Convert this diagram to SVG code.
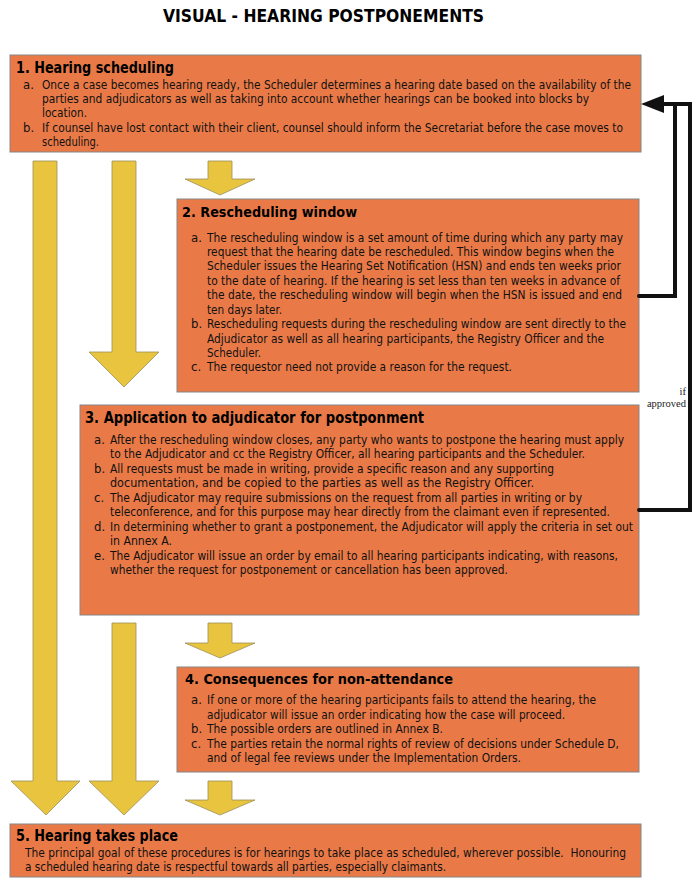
<svg xmlns="http://www.w3.org/2000/svg" width="700" height="889" viewBox="0 0 700 889">
<style>
.box{fill:#E97A48;stroke:#858585;stroke-width:1}
.arr{fill:#E9C53F;stroke:#9C8F5C;stroke-width:0.8}
.title{font-family:"DejaVu Sans Condensed","DejaVu Sans",sans-serif;font-weight:bold;font-size:17px;fill:#000}
.hc{font-family:"DejaVu Sans Condensed","DejaVu Sans",sans-serif;font-weight:bold;font-size:15px;fill:#000}
.hn{font-family:"DejaVu Sans","DejaVu Sans Condensed",sans-serif;font-weight:bold;font-size:14.5px;fill:#000}
.tc{font-family:"DejaVu Sans Condensed","DejaVu Sans",sans-serif;font-size:13px;fill:#111;white-space:pre}
.tn{font-family:"DejaVu Sans Condensed","DejaVu Sans",sans-serif;font-size:13px;fill:#111}
.conn{fill:none;stroke:#111;stroke-width:4;stroke-linecap:round;stroke-linejoin:miter}
.lbl{font-family:"Liberation Serif",serif;font-size:10.5px;fill:#222;text-anchor:end}
</style>

<text class="title" x="163" y="22" textLength="321" lengthAdjust="spacingAndGlyphs">VISUAL - HEARING POSTPONEMENTS</text>

<g id="flow-arrows">
  <polygon class="arr" points="33,161 57,161 57,781 80,781 46,815 11,781 33,781"/>
  <polygon class="arr" points="112,161 136,161 136,352 159,352 124,387 89,352 112,352"/>
  <polygon class="arr" points="112,623 136,623 136,781 159,781 124,815 89,781 112,781"/>
  <polygon class="arr" points="208,161 232,161 232,179 255,179 220,195 185,179 208,179"/>
  <polygon class="arr" points="208,623 232,623 232,643 255,643 220,658 185,643 208,643"/>
  <polygon class="arr" points="208,781 232,781 232,800 255,800 220,815 185,800 208,800"/>
</g>

<g id="node1">
  <rect class="box" x="10" y="55" width="631" height="97"/>
  <text class="hc" x="16" y="73" textLength="158" lengthAdjust="spacingAndGlyphs">1. Hearing scheduling</text>
  <text class="tc" x="23" y="89">a.</text>
  <text class="tc" x="42" y="89" textLength="589" lengthAdjust="spacingAndGlyphs">Once a case becomes hearing ready, the Scheduler determines a hearing date based on the availability of the</text>
  <text class="tc" x="42" y="103" textLength="547" lengthAdjust="spacingAndGlyphs">parties and adjudicators as well as taking into account whether hearings can be booked into blocks by</text>
  <text class="tc" x="42" y="117" textLength="45" lengthAdjust="spacingAndGlyphs">location.</text>
  <text class="tc" x="23" y="132">b.</text>
  <text class="tc" x="42" y="132" textLength="581" lengthAdjust="spacingAndGlyphs">If counsel have lost contact with their client, counsel should inform the Secretariat before the case moves to</text>
  <text class="tc" x="42" y="146" textLength="57" lengthAdjust="spacingAndGlyphs">scheduling.</text>
</g>

<g id="node2">
  <rect class="box" x="177" y="199" width="462" height="193"/>
  <text class="hn" x="182" y="217" textLength="175" lengthAdjust="spacingAndGlyphs">2. Rescheduling window</text>
  <text class="tn" x="191" y="242">a.</text>
  <text class="tn" x="207" y="242" textLength="416" lengthAdjust="spacingAndGlyphs">The rescheduling window is a set amount of time during which any party may</text>
  <text class="tn" x="207" y="256" textLength="407" lengthAdjust="spacingAndGlyphs">request that the hearing date be rescheduled. This window begins when the</text>
  <text class="tn" x="207" y="270" textLength="414" lengthAdjust="spacingAndGlyphs">Scheduler issues the Hearing Set Notification (HSN) and ends ten weeks prior</text>
  <text class="tn" x="207" y="285" textLength="413" lengthAdjust="spacingAndGlyphs">to the date of hearing. If the hearing is set less than ten weeks in advance of</text>
  <text class="tn" x="207" y="299" textLength="415" lengthAdjust="spacingAndGlyphs">the date, the rescheduling window will begin when the HSN is issued and end</text>
  <text class="tn" x="207" y="314" textLength="75" lengthAdjust="spacingAndGlyphs">ten days later.</text>
  <text class="tn" x="191" y="328">b.</text>
  <text class="tn" x="207" y="328" textLength="419" lengthAdjust="spacingAndGlyphs">Rescheduling requests during the rescheduling window are sent directly to the</text>
  <text class="tn" x="207" y="343" textLength="397" lengthAdjust="spacingAndGlyphs">Adjudicator as well as all hearing participants, the Registry Officer and the</text>
  <text class="tn" x="207" y="357" textLength="54" lengthAdjust="spacingAndGlyphs">Scheduler.</text>
  <text class="tn" x="191" y="371">c.</text>
  <text class="tn" x="207" y="371" textLength="305" lengthAdjust="spacingAndGlyphs">The requestor need not provide a reason for the request.</text>
</g>

<g id="node3">
  <rect class="box" x="80" y="405" width="559" height="210"/>
  <text class="hc" x="85" y="423" textLength="339" lengthAdjust="spacingAndGlyphs">3. Application to adjudicator for postponment</text>
  <text class="tc" x="94" y="444">a.</text>
  <text class="tc" x="110" y="444" textLength="514" lengthAdjust="spacingAndGlyphs">After the rescheduling window closes, any party who wants to postpone the hearing must apply</text>
  <text class="tc" x="110" y="458" textLength="475" lengthAdjust="spacingAndGlyphs">to the Adjudicator and cc the Registry Officer, all hearing participants and the Scheduler.</text>
  <text class="tc" x="94" y="473">b.</text>
  <text class="tc" x="110" y="473" textLength="444" lengthAdjust="spacingAndGlyphs">All requests must be made in writing, provide a specific reason and any supporting</text>
  <text class="tc" x="110" y="487" textLength="424" lengthAdjust="spacingAndGlyphs">documentation, and be copied to the parties as well as the Registry Officer.</text>
  <text class="tc" x="94" y="502">c.</text>
  <text class="tc" x="110" y="502" textLength="472" lengthAdjust="spacingAndGlyphs">The Adjudicator may require submissions on the request from all parties in writing or by</text>
  <text class="tc" x="110" y="516" textLength="500" lengthAdjust="spacingAndGlyphs">teleconference, and for this purpose may hear directly from the claimant even if represented.</text>
  <text class="tc" x="94" y="531">d.</text>
  <text class="tc" x="110" y="531" textLength="523" lengthAdjust="spacingAndGlyphs">In determining whether to grant a postponement, the Adjudicator will apply the criteria in set out</text>
  <text class="tc" x="110" y="545" textLength="62" lengthAdjust="spacingAndGlyphs">in Annex A.</text>
  <text class="tc" x="94" y="560">e.</text>
  <text class="tc" x="110" y="560" textLength="508" lengthAdjust="spacingAndGlyphs">The Adjudicator will issue an order by email to all hearing participants indicating, with reasons,</text>
  <text class="tc" x="110" y="574" textLength="398" lengthAdjust="spacingAndGlyphs">whether the request for postponement or cancellation has been approved.</text>
</g>

<g id="node4">
  <rect class="box" x="177" y="667" width="462" height="105"/>
  <text class="hn" x="185" y="684" textLength="268" lengthAdjust="spacingAndGlyphs">4. Consequences for non-attendance</text>
  <text class="tn" x="191" y="704">a.</text>
  <text class="tn" x="207" y="704" textLength="389" lengthAdjust="spacingAndGlyphs">If one or more of the hearing participants fails to attend the hearing, the</text>
  <text class="tn" x="207" y="719" textLength="358" lengthAdjust="spacingAndGlyphs">adjudicator will issue an order indicating how the case will proceed.</text>
  <text class="tn" x="191" y="733">b.</text>
  <text class="tn" x="207" y="733" textLength="236" lengthAdjust="spacingAndGlyphs">The possible orders are outlined in Annex B.</text>
  <text class="tn" x="191" y="748">c.</text>
  <text class="tn" x="207" y="748" textLength="412" lengthAdjust="spacingAndGlyphs">The parties retain the normal rights of review of decisions under Schedule D,</text>
  <text class="tn" x="207" y="762" textLength="314" lengthAdjust="spacingAndGlyphs">and of legal fee reviews under the Implementation Orders.</text>
</g>

<g id="node5">
  <rect class="box" x="10" y="824" width="631" height="53"/>
  <text class="hc" x="16" y="841" font-size="14" textLength="162" lengthAdjust="spacingAndGlyphs">5. Hearing takes place</text>
  <text class="tc" x="25" y="857" textLength="601" lengthAdjust="spacingAndGlyphs">The principal goal of these procedures is for hearings to take place as scheduled, wherever possible.  Honouring</text>
  <text class="tc" x="25" y="871" textLength="421" lengthAdjust="spacingAndGlyphs">a scheduled hearing date is respectful towards all parties, especially claimants.</text>
</g>

<g id="connectors">
  <polyline class="conn" points="639,296 675,296 675,104 662,104"/>
  <polyline class="conn" points="639,510 690,510 690,104 662,104"/>
  <polygon points="641,104 664,95 664,113" fill="#111"/>
  <text class="lbl" x="686" y="395">if</text>
  <text class="lbl" x="686" y="407">approved</text>
</g>
</svg>
